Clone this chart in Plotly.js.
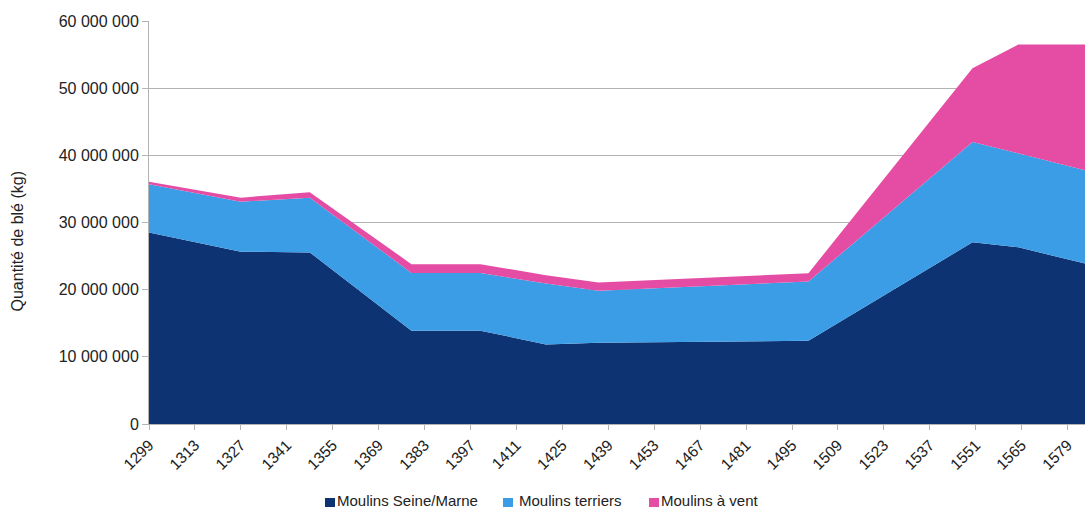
<!DOCTYPE html>
<html>
<head>
<meta charset="utf-8">
<script src="https://cdn.plot.ly/plotly-3.0.1.min.js"></script>
<style>
  html, body { margin: 0; padding: 0; background: #fff; }
  #chart { width: 1085px; height: 510px; }
</style>
</head>
<body>
<div id="chart"></div>
<script>
// ---- data ----
const years = [1299, 1327, 1348, 1379, 1400, 1420, 1436, 1500, 1550, 1564, 1585];
const seineMarne = [28500000, 25650000, 25550000, 13900000, 13900000, 11850000, 12100000, 12400000, 27050000, 26300000, 23800000];
const terriers   = [7200000, 7450000, 8150000, 8600000, 8600000, 9050000, 7750000, 8800000, 14950000, 14000000, 13900000];
const aVent      = [370000, 600000, 800000, 1300000, 1300000, 1250000, 1200000, 1250000, 10950000, 16200000, 18800000];
const seriesNames = ["Moulins Seine/Marne", "Moulins terriers", "Moulins à vent"];
const yTitle = "Quantité de blé (kg)";

// ---- style ----
const colors = ["#0d3372", "#3b9de6", "#e54ca3"];
const FONT = "Liberation Sans, Arial, sans-serif";
const W = 1085, H = 510;
const M = {l: 149, r: 0, t: 21, b: 86};
const PW = W - M.l - M.r, PH = H - M.t - M.b;
const px2x = px => (px - M.l) / PW;
const px2y = py => (H - M.b - py) / PH;

const seriesValues = [seineMarne, terriers, aVent];
const traces = seriesValues.map((vals, i) => ({
  type: "scatter",
  mode: "lines",
  x: years,
  y: vals,
  name: seriesNames[i],
  stackgroup: "one",
  fillcolor: colors[i],
  line: {width: 0, color: colors[i]},
  showlegend: false,
  hoverinfo: "x+y+name"
}));

// custom legend (square swatches + labels) placed like the reference
const legSquareLeft = [325, 503, 649];
const legTextLeft = [337, 519, 661];
const legSquareY = 502.5;
const legTextY = 500.5;
const shapes = [];
const annotations = [];
seriesNames.forEach((n, i) => {
  shapes.push({
    type: "rect", xref: "paper", yref: "paper",
    x0: px2x(legSquareLeft[i]), x1: px2x(legSquareLeft[i] + 10),
    y0: px2y(legSquareY + 4.5), y1: px2y(legSquareY - 4.5),
    fillcolor: colors[i], line: {width: 0}
  });
  annotations.push({
    xref: "paper", yref: "paper",
    x: px2x(legTextLeft[i]), y: px2y(legTextY),
    xanchor: "left", yanchor: "middle",
    text: n, showarrow: false,
    borderpad: 0, borderwidth: 0,
    font: {family: FONT, size: 15, color: "#222"}
  });
});
annotations.push({
  xref: "paper", yref: "paper",
  x: px2x(17), y: px2y(241.5),
  xanchor: "center", yanchor: "middle",
  text: yTitle, textangle: -90, showarrow: false,
  font: {family: FONT, size: 16, color: "#222"}
});

const layout = {
  width: W, height: H,
  margin: M,
  paper_bgcolor: "#fff",
  plot_bgcolor: "#fff",
  separators: ", ",
  showlegend: false,
  font: {family: FONT, size: 16, color: "#222"},
  xaxis: {
    type: "linear",
    range: [1299, 1584.3],
    tickmode: "linear", tick0: 1299, dtick: 14,
    tickformat: "d",
    tickangle: -45,
    ticks: "outside", ticklen: 5, tickcolor: "#b3b3b3",
    showgrid: false, zeroline: false,
    showline: true, linecolor: "#b3b3b3", linewidth: 1,
    tickfont: {family: FONT, size: 15.5, color: "#222"}
  },
  yaxis: {
    range: [0, 60000000],
    tickmode: "linear", tick0: 0, dtick: 10000000,
    tickformat: ",d",
    ticks: "outside", ticklen: 6, tickcolor: "#b3b3b3",
    showgrid: true, gridcolor: "#b3b3b3", gridwidth: 1,
    zeroline: false,
    showline: true, linecolor: "#b3b3b3", linewidth: 1,
    tickfont: {family: FONT, size: 16, color: "#222"}
  },
  shapes: shapes,
  annotations: annotations
};

Plotly.newPlot("chart", traces, layout, {staticPlot: true, displayModeBar: false});
</script>
</body>
</html>
